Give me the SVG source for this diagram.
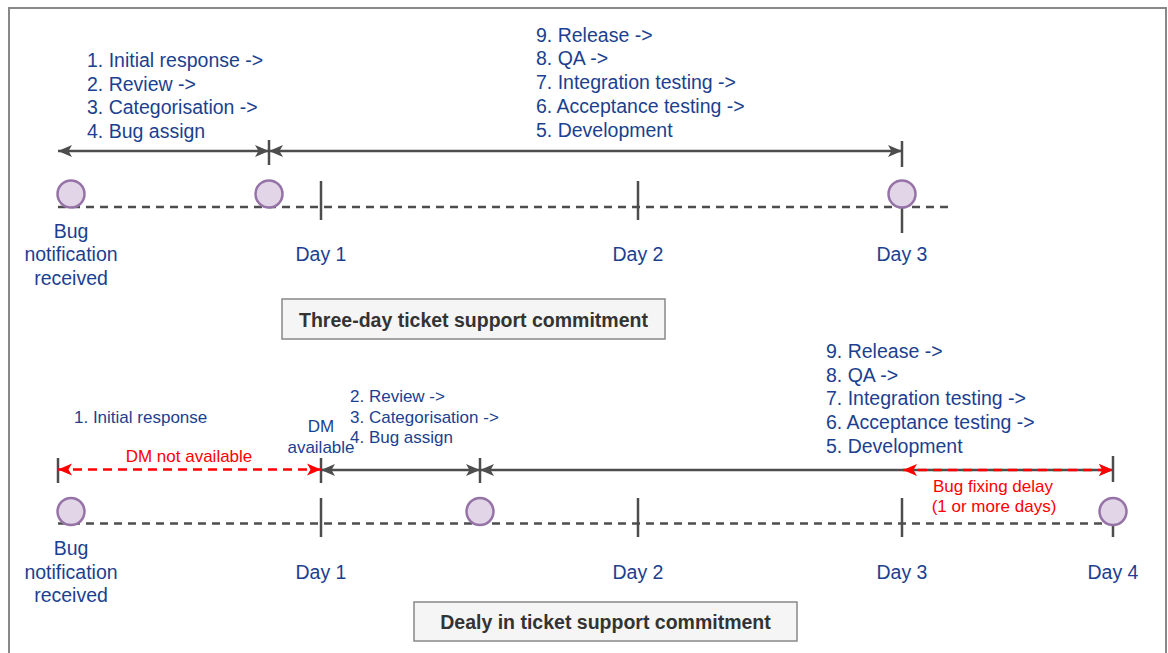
<svg xmlns="http://www.w3.org/2000/svg" width="1168" height="653" viewBox="0 0 1168 653">
  <defs>
    <style>
      text { font-family: "Liberation Sans", Arial, sans-serif; }
      .lbl { font-size: 19.5px; fill: #1c3f8f; }
      .sm { font-size: 17px; fill: #1c3f8f; }
      .red { font-size: 17px; fill: #ff0000; }
      .title { font-size: 19.5px; font-weight: bold; fill: #333333; }
      .mid { text-anchor: middle; }
      .axis { stroke: #4d4d4d; stroke-width: 2.5; stroke-dasharray: 8 6; fill: none; }
      .tick { stroke: #4d4d4d; stroke-width: 2.5; fill: none; }
      .span { stroke: #4d4d4d; stroke-width: 2.5; fill: none; marker-start: url(#headGray); marker-end: url(#headGray); }
      .spanRed { stroke: #ff0000; stroke-width: 2.5; stroke-dasharray: 9 6; fill: none; marker-start: url(#headRed); marker-end: url(#headRed); }
      .event { fill: #e1d5e7; stroke: #9673a6; stroke-width: 2.5; }
      .box { fill: #f5f5f5; stroke: #888888; stroke-width: 1.5; }
    </style>
    <marker id="headGray" markerUnits="userSpaceOnUse" markerWidth="16" markerHeight="14" viewBox="0 0 16 14" refX="15" refY="7" orient="auto-start-reverse">
      <path d="M1,1 L15,7 L1,13 L4.5,7 Z" fill="#4d4d4d"/>
    </marker>
    <marker id="headRed" markerUnits="userSpaceOnUse" markerWidth="16" markerHeight="14" viewBox="0 0 16 14" refX="15" refY="7" orient="auto-start-reverse">
      <path d="M1,1 L15,7 L1,13 L4.5,7 Z" fill="#ff0000"/>
    </marker>
  </defs>

  <rect width="1168" height="653" fill="#ffffff"/>
  <!-- outer frame, open at the bottom -->
  <rect x="9" y="8" width="1157" height="670" fill="none" stroke="#888888" stroke-width="2"/>

  <!-- ===== Three-day commitment timeline ===== -->
  <g id="connectors-top">
    <line class="axis" x1="58" y1="207" x2="953" y2="207"/>
    <line class="tick" x1="321" y1="181" x2="321" y2="220"/>
    <line class="tick" x1="638" y1="181" x2="638" y2="220"/>
    <line class="tick" x1="902" y1="207" x2="902" y2="233"/>
    <line class="tick" x1="902" y1="141" x2="902" y2="167"/>
    <line class="tick" x1="269" y1="140" x2="269" y2="165"/>
    <line class="span" x1="58" y1="151" x2="269" y2="151"/>
    <line class="span" x1="269" y1="151" x2="902" y2="151"/>
  </g>

  <g id="event-top-received"><circle class="event" cx="71" cy="194" r="13.5"/></g>
  <g id="event-top-assigned"><circle class="event" cx="269" cy="194" r="13.5"/></g>
  <g id="event-top-released"><circle class="event" cx="902" cy="194" r="13.5"/></g>

  <g id="steps-top-first">
    <text class="lbl" x="87" y="67">1. Initial response -&gt;</text>
    <text class="lbl" x="87" y="90.5">2. Review -&gt;</text>
    <text class="lbl" x="87" y="114">3. Categorisation -&gt;</text>
    <text class="lbl" x="87" y="137.5">4. Bug assign</text>
  </g>
  <g id="steps-top-second">
    <text class="lbl" x="536" y="41.5">9. Release -&gt;</text>
    <text class="lbl" x="536" y="65">8. QA -&gt;</text>
    <text class="lbl" x="536" y="89">7. Integration testing -&gt;</text>
    <text class="lbl" x="536" y="112.5">6. Acceptance testing -&gt;</text>
    <text class="lbl" x="536" y="136.5">5. Development</text>
  </g>

  <g id="labels-top">
    <text class="lbl mid" x="71" y="237.5">Bug</text>
    <text class="lbl mid" x="71" y="261">notification</text>
    <text class="lbl mid" x="71" y="284.5">received</text>
    <text class="lbl mid" x="321" y="261">Day 1</text>
    <text class="lbl mid" x="638" y="261">Day 2</text>
    <text class="lbl mid" x="902" y="261">Day 3</text>
  </g>

  <g id="caption-top">
    <rect class="box" x="282" y="299" width="383" height="40"/>
    <text class="title mid" x="473.5" y="326.5">Three-day ticket support commitment</text>
  </g>

  <!-- ===== Delayed commitment timeline ===== -->
  <g id="connectors-bottom">
    <line class="axis" x1="58" y1="523.5" x2="1102" y2="523.5"/>
    <line class="tick" x1="58" y1="458" x2="58" y2="483"/>
    <line class="tick" x1="321" y1="458" x2="321" y2="483"/>
    <line class="tick" x1="321" y1="498" x2="321" y2="537"/>
    <line class="tick" x1="638" y1="498" x2="638" y2="537"/>
    <line class="tick" x1="902" y1="498" x2="902" y2="537"/>
    <line class="tick" x1="480" y1="458" x2="480" y2="483"/>
    <line class="tick" x1="1113" y1="456" x2="1113" y2="482"/>
    <line class="tick" x1="1113" y1="524" x2="1113" y2="537"/>
    <line class="span" x1="321" y1="470" x2="480" y2="470"/>
    <line class="span" x1="480" y1="470" x2="1113" y2="470"/>
    <line class="spanRed" x1="58" y1="469.5" x2="321" y2="469.5"/>
    <line class="spanRed" x1="903" y1="470" x2="1113" y2="470"/>
  </g>

  <g id="event-bottom-received"><circle class="event" cx="71" cy="511.5" r="13.5"/></g>
  <g id="event-bottom-assigned"><circle class="event" cx="480" cy="511.5" r="13.5"/></g>
  <g id="event-bottom-released"><circle class="event" cx="1113" cy="511.5" r="13.5"/></g>

  <g id="steps-bottom-first">
    <text class="sm" x="74" y="423">1. Initial response</text>
    <text class="red mid" x="189" y="461.5">DM not available</text>
    <text class="sm mid" x="321" y="431.5">DM</text>
    <text class="sm mid" x="321" y="452.5">available</text>
  </g>
  <g id="steps-bottom-second">
    <text class="sm" x="350" y="401.5">2. Review -&gt;</text>
    <text class="sm" x="350" y="422.5">3. Categorisation -&gt;</text>
    <text class="sm" x="350" y="442.5">4. Bug assign</text>
  </g>
  <g id="steps-bottom-third">
    <text class="lbl" x="826" y="357.5">9. Release -&gt;</text>
    <text class="lbl" x="826" y="381.5">8. QA -&gt;</text>
    <text class="lbl" x="826" y="405">7. Integration testing -&gt;</text>
    <text class="lbl" x="826" y="428.5">6. Acceptance testing -&gt;</text>
    <text class="lbl" x="826" y="453">5. Development</text>
  </g>
  <g id="delay-note">
    <text class="red mid" x="993" y="491.5">Bug fixing delay</text>
    <text class="red mid" x="994" y="511.5">(1 or more days)</text>
  </g>

  <g id="labels-bottom">
    <text class="lbl mid" x="71" y="555">Bug</text>
    <text class="lbl mid" x="71" y="578.5">notification</text>
    <text class="lbl mid" x="71" y="602">received</text>
    <text class="lbl mid" x="321" y="578.5">Day 1</text>
    <text class="lbl mid" x="638" y="578.5">Day 2</text>
    <text class="lbl mid" x="902" y="578.5">Day 3</text>
    <text class="lbl mid" x="1113" y="578.5">Day 4</text>
  </g>

  <g id="caption-bottom">
    <rect class="box" x="414" y="602" width="383" height="39"/>
    <text class="title mid" x="605.5" y="629">Dealy in ticket support commitment</text>
  </g>
</svg>
